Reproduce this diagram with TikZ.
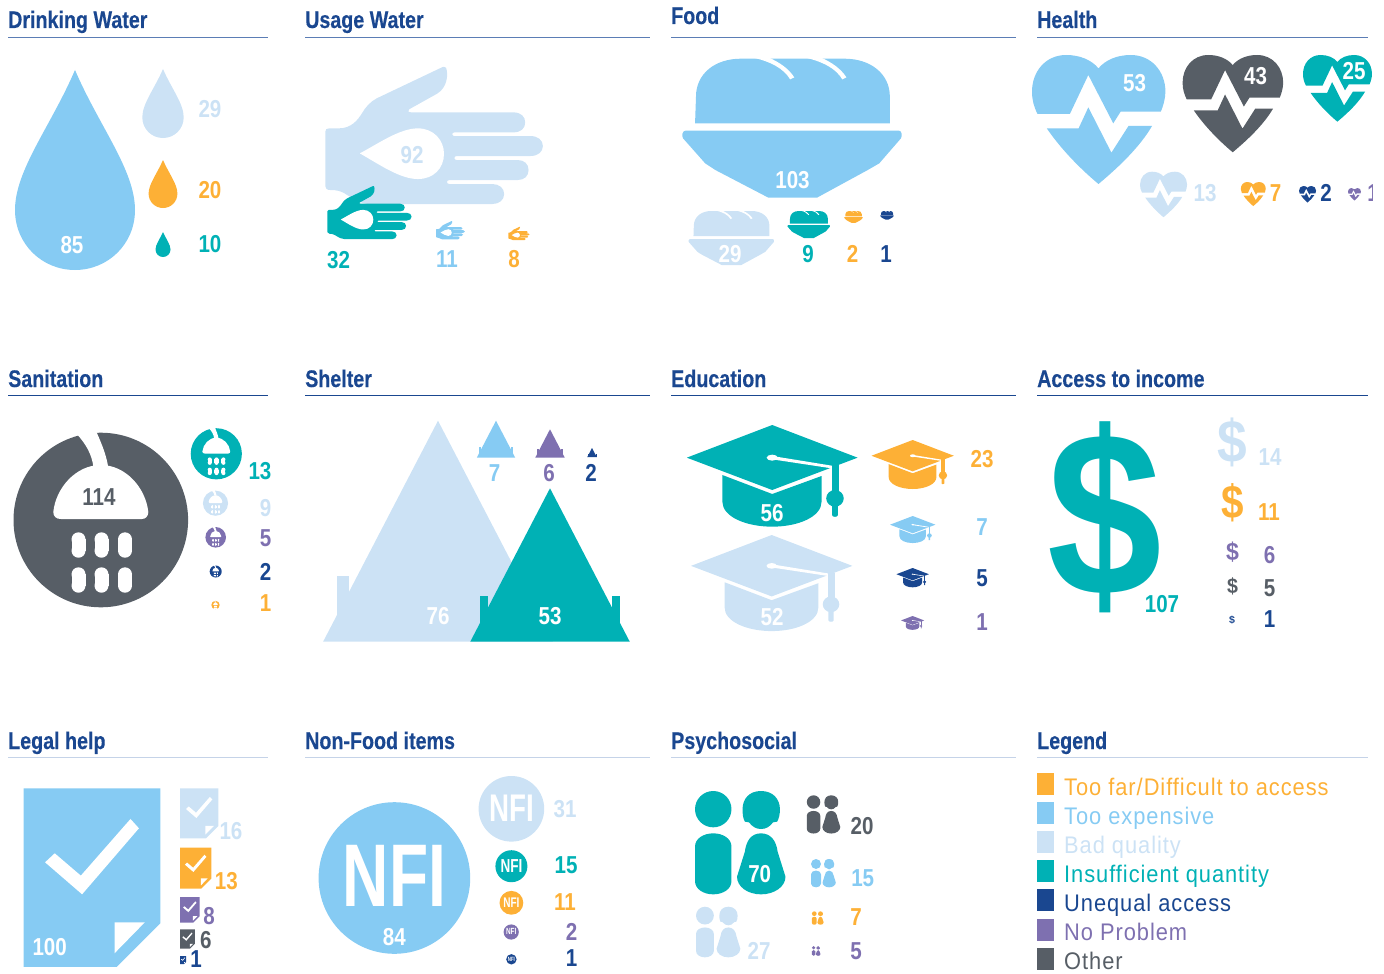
\documentclass[tikz,border=0pt]{standalone}
\usepackage{fontspec}
\setmainfont{Liberation Sans}
\newfontfamily\titf[FakeStretch=.82,FakeBold=.3]{Liberation Sans Bold}
\newfontfamily\numf[FakeStretch=.84]{Liberation Sans Bold}
\newfontfamily\legf[FakeStretch=.91,LetterSpace=4]{Liberation Sans}
\newfontfamily\capf{Liberation Sans Bold}
\definecolor{orng}{HTML}{FDB036}
\definecolor{lblue}{HTML}{86CBF3}
\definecolor{pale}{HTML}{CCE2F5}
\definecolor{teal}{HTML}{00B1B5}
\definecolor{navy}{HTML}{1A4790}
\definecolor{purp}{HTML}{7E70B0}
\definecolor{gry}{HTML}{575E66}
\definecolor{ruleA}{HTML}{5B7DB5}
\definecolor{ruleC}{HTML}{C5D3E8}
\tikzset{
  numlabel/.style={inner sep=0pt,font={\numf\fontsize{24.5}{26}\selectfont}},
  titlelabel/.style={inner sep=0pt,anchor=base west,text=navy,font={\titf\fontsize{24}{26}\selectfont}},
  leglabel/.style={inner sep=0pt,anchor=base west,font={\legf\fontsize{24}{26}\selectfont}},
  rulecol/.style={line width=1.2pt}
}
\newcommand\numtxt[4]{\node[numlabel,text=#3] at (#1,#2) {#4};}
\newcommand\heading[6]{\node[titlelabel] at (#1,#2) {#3}; \draw[rulecol,#6] (#1,#4) -- (#5,#4);}
\newcommand\dropicon[4]{\begin{scope}[shift={(#1,#2)},scale=#3]
 \fill[#4] (0,0) .. controls (24,56) and (60,100) .. (60,140) .. controls (60,174) and (33,200) .. (0,200) .. controls (-33,200) and (-60,174) .. (-60,140) .. controls (-60,100) and (-24,56) .. (0,0) -- cycle;
\end{scope}}
\newcommand\handicon[4]{\begin{scope}[shift={(#1,#2)},xscale=#3/2.376,yscale=#3/3,shift={(-773,-200)}]
 \fill[#4] (773,395) .. controls (773,388) and (776,385) .. (782,385) -- (805,385) .. controls (835,385) and (850,360) .. (860,340) .. controls (868,322) and (880,305) .. (895,295) -- (1045,205) .. controls (1052,200) and (1058,198) .. (1060,203) .. controls (1066,225) and (1062,262) .. (1040,280) -- (972,328) .. controls (968,333) and (970,337) .. (978,337) -- (1220,337) .. controls (1238,337) and (1248,350) .. (1248,367) .. controls (1248,385) and (1238,397) .. (1220,397) -- (1080,397) .. controls (1073,397) and (1073,408) .. (1080,408) -- (1260,408) .. controls (1278,408) and (1290,420) .. (1290,438) .. controls (1290,456) and (1278,468) .. (1260,468) -- (1085,468) .. controls (1078,468) and (1078,480) .. (1085,480) -- (1230,480) .. controls (1246,480) and (1256,492) .. (1256,510) .. controls (1256,528) and (1246,540) .. (1230,540) -- (1068,540) .. controls (1060,540) and (1060,552) .. (1068,552) -- (1170,552) .. controls (1186,552) and (1198,564) .. (1198,582) .. controls (1198,600) and (1186,612) .. (1170,612) -- (880,612) .. controls (860,612) and (845,600) .. (825,585) .. controls (810,572) and (800,570) .. (785,570) .. controls (776,570) and (773,565) .. (773,558) -- cycle;
 \fill[white] (855,460) .. controls (900,430) and (950,385) .. (993,385) .. controls (1030,385) and (1055,420) .. (1055,461) .. controls (1055,505) and (1030,537) .. (993,537) .. controls (950,537) and (900,492) .. (855,460) -- cycle;
\end{scope}}
\newcommand\breadicon[4]{\begin{scope}[shift={(#1,#2)},xscale=#3/2.166,yscale=#3/3,shift={(-49,-176)}]
 \fill[#4] (76,370) -- (78,290) .. controls (78,220) and (120,176) .. (175,176) -- (400,176) .. controls (455,176) and (498,220) .. (498,290) -- (498,370) -- cycle;
 \fill[white] (200,172) .. controls (240,185) and (268,205) .. (282,238) -- (291,232) .. controls (278,205) and (260,188) .. (235,172) -- cycle;
 \fill[white] (313,172) .. controls (353,185) and (381,205) .. (395,238) -- (404,232) .. controls (391,205) and (373,188) .. (348,172) -- cycle;
 \fill[#4] (55,392) -- (518,392) .. controls (524,392) and (525,408) .. (522,415) -- (475,490) -- (450,510) -- (340,593) -- (235,593) -- (120,510) -- (98,490) -- (50,415) .. controls (47,408) and (48,392) .. (55,392) -- cycle;
\end{scope}}
\newcommand\hearticon[4]{\begin{scope}[shift={(#1,#2)},xscale=#3/2.166,yscale=#3/3,shift={(-806,-165)}]
 \fill[#4] (950,205) .. controls (965,180) and (990,165) .. (1020,165) .. controls (1065,165) and (1095,215) .. (1095,275) .. controls (1095,295) and (1090,320) .. (1085,335) -- (998,335) -- (982,370) -- (928,225) -- (888,342) -- (818,342) .. controls (810,320) and (806,300) .. (806,275) .. controls (806,215) and (835,165) .. (880,165) .. controls (910,165) and (935,180) .. (950,205) -- cycle;
 \fill[#4] (838,385) -- (907,385) -- (928,322) -- (978,458) -- (1015,378) -- (1066,378) .. controls (1040,440) and (995,500) .. (950,552) .. controls (905,500) and (865,440) .. (838,385) -- cycle;
\end{scope}}
\newcommand\pillshape[2]{\fill[white] (#1-7,#2-5.7) rectangle (#1+7,#2+5.7); \fill[white] (#1,#2-5.7) circle[radius=7]; \fill[white] (#1,#2+5.7) circle[radius=7];}
\newcommand\showericon[4]{\begin{scope}[shift={(#1,#2)},scale=#3]
 \fill[#4] (0,0) circle[radius=87.3];
 \fill[white] (-7.4,-53) .. controls (-9,-66) and (-15,-76) .. (-24,-86) -- (-22,-92) -- (-6,-92) .. controls (-1,-80) and (5,-68) .. (7.4,-53) -- cycle;
 \fill[white] (-40,-1) -- (41,-1) .. controls (45,-1) and (47.5,-4) .. (47.5,-8) .. controls (45,-32) and (25,-55) .. (0,-55) .. controls (-25,-55) and (-45,-32) .. (-47.5,-8) .. controls (-47.5,-4) and (-45,-1) .. (-40,-1) -- cycle;
 \pillshape{-22.3}{25}\pillshape{.7}{25}\pillshape{24.2}{25}
 \pillshape{-22.3}{60}\pillshape{.7}{60}\pillshape{24.2}{60}
\end{scope}}
\newcommand\shelteric[4]{\begin{scope}[shift={(#1,#2)},scale=#3]
 \fill[#4] (0,0) -- (79.75,153.4) -- (-79.75,153.4) -- cycle;
 \fill[#4] (-69.8,107.7) rectangle (-61.6,142);
 \fill[#4] (61.6,107.7) rectangle (69.8,142);
\end{scope}}
\newcommand\capicon[4]{\begin{scope}[shift={(#1,#2)},xscale=#3/2.166,yscale=#3/3,shift={(-58,-195)}]
 \fill[#4] (58,293) -- (243,195) -- (428,293) -- (243,390) -- cycle;
 \fill[#4] (135,345) -- (243,402) -- (350,348) -- (350,425) .. controls (350,470) and (300,500) .. (243,500) .. controls (186,500) and (135,470) .. (135,425) -- cycle;
 \fill[white] (243,293) ellipse[x radius=12,y radius=9];
 \fill[white] (243,288) -- (372,317) -- (372,325) -- (243,298) -- cycle;
 \fill[#4] (372,316) -- (387,316) -- (387,395) -- (372,395) -- cycle;
 \fill[#4] (379,415) ellipse[x radius=19,y radius=25];
 \fill[#4] (373,430) -- (385,430) -- (385,466) .. controls (385,472) and (373,472) .. (373,466) -- cycle;
\end{scope}}
\newcommand\dollaricon[5]{\pgfmathsetmacro\dolw{#3*1.07}\pgfmathsetmacro\dolh{#4*.91}\node[inner sep=0pt,text=#5] at (#1,#2) {\resizebox{\dolw pt}{\dolh pt}{\capf\$}};}
\newcommand\docicon[4]{\begin{scope}[shift={(#1,#2)},xscale=#3/2.376,yscale=#3/3,shift={(-56,-205)}]
 \fill[#4] (56,205) -- (381,205) -- (381,610) -- (277,741) -- (56,741) -- cycle;
 \fill[white] (272,607) -- (344,607) -- (272,700) -- cycle;
 \fill[white] (107,427) -- (130,400) -- (192,467) -- (310,297) -- (330,325) -- (195,523) -- cycle;
\end{scope}}
\newcommand\nficon[4]{\fill[#4] (#1,#2) circle[radius=#3];
 \pgfmathsetmacro\nfiy{#3/75.8}\pgfmathsetmacro\nfix{.72*#3/75.8}\pgfmathsetmacro\nfic{#2-2*#3/75.8}
 \node[inner sep=0pt,text=white,xscale=\nfix,yscale=\nfiy] at (#1,\nfic) {\capf\fontsize{89}{90}\selectfont NFI};}
\newcommand\peopleicon[4]{\begin{scope}[shift={(#1,#2)},xscale=#3/2.166,yscale=#3/3,shift={(-76,-213)}]
 \fill[#4] (115.5,267.5) ellipse[x radius=39.5,y radius=54.5];
 \fill[#4] (76,380) .. controls (76,355) and (95,340) .. (115.5,340) .. controls (136,340) and (155,355) .. (155,380) -- (155,483) .. controls (155,508) and (136,523) .. (115.5,523) .. controls (95,523) and (76,508) .. (76,483) -- cycle;
 \fill[#4] (219,213) .. controls (245,213) and (260,237) .. (260,268) .. controls (260,282) and (258,295) .. (254,305) -- (245,307) .. controls (238,320) and (230,327) .. (219,327) .. controls (208,327) and (200,320) .. (193,307) -- (184,305) .. controls (180,295) and (179,282) .. (179,268) .. controls (179,237) and (193,213) .. (219,213) -- cycle;
 \fill[#4] (219,340) .. controls (240,340) and (252,362) .. (255,395) -- (272,470) .. controls (272,500) and (248,523) .. (219,523) .. controls (190,523) and (167,500) .. (167,470) -- (184,395) .. controls (187,362) and (198,340) .. (219,340) -- cycle;
\end{scope}}
\begin{document}
\begin{tikzpicture}[x=1pt,y=-1pt]
\useasboundingbox (0,0) rectangle (1384,974);
% headings
\heading{8}{28}{Drinking Water}{37.5}{268}{ruleA}
\heading{305}{28}{Usage Water}{37.5}{650}{ruleA}
\heading{671}{24}{Food}{37.5}{1016}{ruleA}
\heading{1037}{28}{Health}{37.5}{1368}{ruleA}
\heading{8}{387}{Sanitation}{395.5}{268}{navy}
\heading{305}{387}{Shelter}{395.5}{650}{navy}
\heading{671}{387}{Education}{395.5}{1016}{navy}
\heading{1037}{387}{Access to income}{395.5}{1368}{navy}
\heading{8}{749}{Legal help}{757.3}{268}{ruleC}
\heading{305}{749}{Non-Food items}{757.3}{650}{ruleC}
\heading{671}{749}{Psychosocial}{757.3}{1016}{ruleC}
\heading{1037}{749}{Legend}{757.3}{1368}{ruleC}
% drinking water
\dropicon{75}{70}{1}{lblue}
\dropicon{163}{69}{.345}{pale}
\dropicon{163}{160}{.24}{orng}
\dropicon{163}{232}{.125}{teal}
\numtxt{72}{245}{white}{85}
\numtxt{210}{109}{pale}{29}
\numtxt{210}{190}{orng}{20}
\numtxt{210}{244}{teal}{10}
% usage water
\handicon{325.3}{66.7}{1}{pale}
\handicon{327.4}{186}{.387}{teal}
\handicon{436}{221}{.133}{lblue}
\handicon{508.4}{226.7}{.097}{orng}
\numtxt{412}{155}{pale}{92}
\numtxt{338.5}{260}{teal}{32}
\numtxt{447}{259.5}{lblue}{11}
\numtxt{514}{259.5}{orng}{8}
% food
\breadicon{682.6}{58.7}{1}{lblue}
\breadicon{688.6}{211}{.39}{pale}
\breadicon{787.4}{211}{.195}{teal}
\breadicon{844.2}{211}{.085}{orng}
\breadicon{880.2}{211}{.062}{navy}
\numtxt{792.5}{180}{white}{103}
\numtxt{730}{254}{white}{29}
\numtxt{808}{254}{teal}{9}
\numtxt{852.5}{254}{orng}{2}
\numtxt{886}{254}{navy}{1}
% health
\hearticon{1032}{55}{1}{lblue}
\hearticon{1182.6}{55}{.754}{gry}
\hearticon{1303}{55}{.517}{teal}
\hearticon{1140}{171.7}{.353}{pale}
\hearticon{1240.8}{182}{.187}{orng}
\hearticon{1299}{186}{.128}{navy}
\hearticon{1348}{188}{.097}{purp}
\numtxt{1134.5}{83}{white}{53}
\numtxt{1255.5}{76}{white}{43}
\numtxt{1354}{71}{white}{25}
\numtxt{1205}{193}{pale}{13}
\numtxt{1275.5}{193}{orng}{7}
\numtxt{1326}{193}{navy}{2}
\begin{scope}\clip (1340,170) rectangle (1372,215);
\numtxt{1373}{193}{purp}{1}
\end{scope}
% sanitation
\showericon{100.8}{520}{1}{gry}
\showericon{216.3}{453.8}{.293}{teal}
\showericon{215.5}{503.2}{.144}{pale}
\showericon{215.7}{537.3}{.118}{purp}
\showericon{215.7}{571.5}{.069}{navy}
\showericon{215.5}{605}{.048}{orng}
\numtxt{99}{497}{gry}{114}
\numtxt{260}{471}{teal}{13}
\numtxt{265.6}{507.7}{pale}{9}
\numtxt{265.6}{538.5}{purp}{5}
\numtxt{265.6}{571.7}{navy}{2}
\numtxt{265.6}{603.5}{orng}{1}
% shelter
\shelteric{438}{420.7}{1.44}{pale}
\shelteric{550}{488.3}{1}{teal}
\shelteric{496}{420.7}{.24}{lblue}
\shelteric{550}{429.3}{.184}{purp}
\shelteric{592}{448}{.06}{navy}
\numtxt{438}{616}{white}{76}
\numtxt{550}{616}{white}{53}
\numtxt{494.5}{473}{lblue}{7}
\numtxt{549}{473}{purp}{6}
\numtxt{591}{473}{navy}{2}
% education
\capicon{686.8}{425}{1}{teal}
\capicon{691}{535}{.945}{pale}
\capicon{871.5}{440}{.482}{orng}
\capicon{890}{516}{.266}{lblue}
\capicon{896.4}{568}{.19}{navy}
\capicon{901}{616}{.136}{purp}
\numtxt{772}{513.5}{white}{56}
\numtxt{772}{616.7}{white}{52}
\numtxt{982}{459.5}{orng}{23}
\numtxt{982}{526.7}{lblue}{7}
\numtxt{982}{578.5}{navy}{5}
\numtxt{982}{622.5}{purp}{1}
% income
\dollaricon{1105}{517.7}{107}{191}{teal}
\dollaricon{1232.4}{442.8}{27.7}{49}{pale}
\dollaricon{1232.5}{502.5}{21}{38.4}{orng}
\dollaricon{1232.5}{552.5}{12}{20.4}{purp}
\dollaricon{1232.5}{586.3}{10.2}{17.3}{gry}
\dollaricon{1232}{620}{5.5}{8.3}{navy}
\numtxt{1162}{604.5}{teal}{107}
\numtxt{1270}{456.7}{pale}{14}
\numtxt{1269}{511.7}{orng}{11}
\numtxt{1269.5}{555}{purp}{6}
\numtxt{1269.5}{588.3}{gry}{5}
\numtxt{1269.5}{619.5}{navy}{1}
% legal
\docicon{23.6}{788.3}{1}{lblue}
\docicon{180}{788.3}{.28}{pale}
\docicon{180}{847.7}{.229}{orng}
\docicon{180}{897}{.143}{purp}
\docicon{180}{929.3}{.108}{gry}
\docicon{180}{956}{.045}{navy}
\numtxt{49.7}{947.5}{white}{100}
\numtxt{231}{830.7}{pale}{16}
\numtxt{226.4}{880.7}{orng}{13}
\numtxt{209}{915.7}{purp}{8}
\numtxt{205.8}{940}{gry}{6}
\numtxt{196}{959.5}{navy}{1}
% nfi
\nficon{394.4}{878}{75.8}{lblue}
\nficon{511.4}{808.8}{32.8}{pale}
\nficon{511.4}{866.2}{16}{teal}
\nficon{511.4}{902.8}{11.9}{orng}
\nficon{511.2}{932}{7.6}{purp}
\nficon{511.4}{959.3}{5.2}{navy}
\numtxt{394.4}{936.7}{white}{84}
\numtxt{565}{809.3}{pale}{31}
\numtxt{566}{865.3}{teal}{15}
\numtxt{565}{901.7}{orng}{11}
\numtxt{571.5}{931.7}{purp}{2}
\numtxt{571.5}{958.3}{navy}{1}
% psychosocial
\peopleicon{695}{791}{1}{teal}
\peopleicon{806.8}{795.3}{.37}{gry}
\peopleicon{811}{859}{.274}{lblue}
\peopleicon{696}{906.7}{.49}{pale}
\peopleicon{811.9}{911.3}{.13}{orng}
\peopleicon{811.9}{946}{.095}{purp}
\numtxt{759.7}{874.5}{white}{70}
\numtxt{862}{825.7}{gry}{20}
\numtxt{862.7}{878}{lblue}{15}
\numtxt{856}{916.7}{orng}{7}
\numtxt{856}{950.7}{purp}{5}
\numtxt{759}{950.7}{pale}{27}
% legend
\fill[orng] (1036.7,773.3) rectangle (1053.8,795);
\fill[lblue] (1036.7,802.3) rectangle (1053.8,824);
\fill[pale] (1036.7,831.3) rectangle (1053.8,853);
\fill[teal] (1036.7,860) rectangle (1053.8,882);
\fill[navy] (1036.7,889) rectangle (1053.8,911);
\fill[purp] (1036.7,919) rectangle (1053.8,941);
\fill[gry] (1036.7,948) rectangle (1053.8,970);
\node[leglabel,text=orng] at (1064,795) {Too far/Difficult to access};
\node[leglabel,text=lblue] at (1064,824) {Too expensive};
\node[leglabel,text=pale] at (1064,853) {Bad quality};
\node[leglabel,text=teal] at (1064,882) {Insufficient quantity};
\node[leglabel,text=navy] at (1064,911) {Unequal access};
\node[leglabel,text=purp] at (1064,940) {No Problem};
\node[leglabel,text=gry] at (1064,969) {Other};
\end{tikzpicture}
\end{document}
